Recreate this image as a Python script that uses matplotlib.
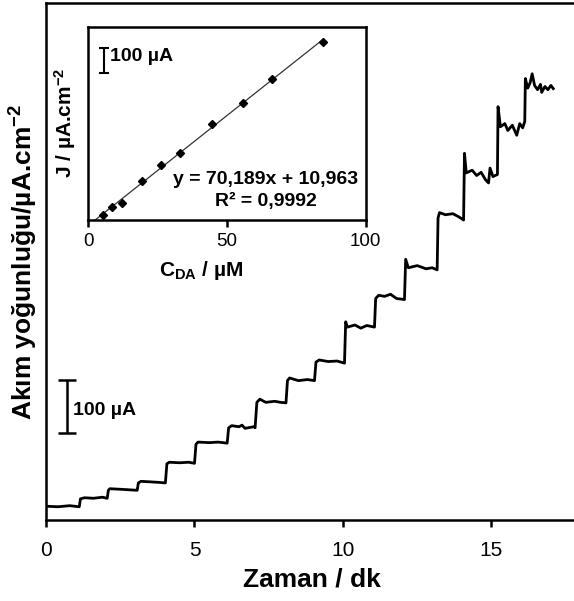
import numpy as np
import matplotlib.pyplot as plt

plt.rcParams['font.family'] = ['Liberation Sans', 'DejaVu Sans']
plt.rcParams['mathtext.fontset'] = 'custom'
plt.rcParams['mathtext.rm'] = 'Liberation Sans:bold'
plt.rcParams['mathtext.default'] = 'rm'

# amperometric trace: time / min, current / uA
t_min = [0.0, 0.4, 0.8, 1.12,
         1.16, 1.3, 1.6, 1.9, 2.06,
         2.1, 2.15, 2.5, 2.8, 3.07,
         3.11, 3.2, 3.5, 3.8, 4.02,
         4.07, 4.15, 4.5, 4.8, 5.0,
         5.05, 5.12, 5.5, 5.8, 6.1,
         6.15, 6.25, 6.5, 6.6, 6.7, 7.0, 7.04,
         7.1, 7.2, 7.4, 7.7, 7.9, 8.08,
         8.13, 8.2, 8.5, 8.8, 9.04,
         9.09, 9.2, 9.5, 9.8, 10.05,
         10.09, 10.15, 10.4, 10.6, 10.8, 11.06,
         11.1, 11.2, 11.4, 11.6, 11.8, 12.07,
         12.11, 12.2, 12.5, 12.8, 13.0, 13.17,
         13.2, 13.25, 13.45, 13.7, 13.9, 14.06,
         14.09, 14.15, 14.35, 14.5, 14.65, 14.8, 14.9, 14.95, 15.05, 15.2,
         15.22, 15.3, 15.45, 15.55, 15.7, 15.85, 15.95, 16.05, 16.12,
         16.14, 16.22, 16.3, 16.37, 16.45, 16.55, 16.65, 16.69, 16.8, 16.9, 17.0, 17.08]
current = [26, 25, 27, 25,
           40, 42, 41, 43, 41,
           56, 59, 58, 57, 56,
           70, 73, 72, 71, 70,
           106, 109, 108, 109, 107,
           143, 147, 146, 147, 145,
           174, 178, 176, 179, 173, 176, 174,
           222, 228, 222, 224, 222, 221,
           263, 268, 263, 265, 263,
           298, 302, 299, 300, 296,
           374, 364, 368, 362, 367, 364,
           418, 424, 422, 426, 418, 416,
           492, 476, 480, 474, 476, 472,
           570, 580, 576, 578, 572, 566,
           692, 655, 660, 650, 656, 642, 636, 664, 648, 652,
           780, 742, 748, 735, 745, 726, 748, 740, 752,
           833, 815, 825, 842, 820, 812, 822, 807, 818, 812, 820, 814]

# calibration (inset)
c_da = [5.2, 8.7, 12.0, 19.5, 26.2, 33.1, 44.5, 55.7, 66.1, 84.7]
j_val = [169, 428, 584, 1326, 1855, 2250, 3238, 3957, 4746, 5994]

W, H = 574, 601
fig = plt.figure(figsize=(W / 100, H / 100), dpi=100)

ax = fig.add_axes([46 / W, (H - 520) / H, 534.6 / W, 516.7 / H])
ax.plot(t_min, current, color='black', lw=2.0)
ax.set_xlim(0, 18)
ax.set_ylim(0, 975)
ax.set_xticks([0, 5, 10, 15])
ax.set_yticks([])
ax.tick_params(axis='x', direction='out', length=5, width=1.8, labelsize=15, pad=10)
for s in ['left', 'bottom', 'top']:
    ax.spines[s].set_linewidth(1.8)
ax.spines['right'].set_visible(False)
ax.set_xlabel('Zaman / dk', fontsize=19, fontweight='bold', va='center')
ax.xaxis.set_label_coords(0.498, -0.116)
ax.set_ylabel('Akım yoğunluğu/µA.cm$^{-2}$', fontsize=19, fontweight='bold', va='center')
ax.yaxis.set_label_coords(-0.041, 0.5)

# 100 uA scale bar
ax.errorbar([0.7], [215], yerr=[[50], [50]], fmt='none', ecolor='black',
            elinewidth=1.8, capsize=6.5, capthick=1.8)
ax.text(0.92, 207, '100 µA', fontsize=14, fontweight='bold', va='center', ha='left')

# inset
ins = fig.add_axes([88.3 / W, (H - 220) / H, 277.4 / W, 192.7 / H])
coef = np.polyfit(c_da, j_val, 1)
xf = np.array([0, max(c_da)])
ins.plot(xf, np.polyval(coef, xf), color='#333333', lw=0.9)
ins.plot(c_da, j_val, 'D', color='black', ms=4.5)
ins.set_xlim(0, 100)
ins.set_ylim(0, 6500)
ins.set_xticks([0, 50, 100])
ins.set_yticks([])
ins.tick_params(axis='x', direction='out', length=5, width=1.8, labelsize=13.5, pad=4)
for s in ins.spines.values():
    s.set_linewidth(1.8)
ins.set_xlabel('C$_{DA}$ / µM', fontsize=15, fontweight='bold', va='center')
ins.xaxis.set_label_coords(0.406, -0.26)
ins.set_ylabel('J / µA.cm$^{-2}$', fontsize=15, fontweight='bold', va='center')
ins.yaxis.set_label_coords(-0.084, 0.506)
ins.errorbar([0.058], [0.826], yerr=[[0.065], [0.065]], fmt='none', ecolor='black',
             elinewidth=1.5, capsize=3.6, capthick=1.5, transform=ins.transAxes)
ins.text(0.078, 0.846, '100 µA', fontsize=14, fontweight='bold', va='center',
         ha='left', transform=ins.transAxes)
ins.text(0.64, 0.211, 'y = 70,189x + 10,963', fontsize=14, fontweight='bold',
         ha='center', va='center', transform=ins.transAxes)
ins.text(0.64, 0.095, 'R² = 0,9992', fontsize=14, fontweight='bold',
         ha='center', va='center', transform=ins.transAxes)

fig.savefig('out.png', dpi=100)
